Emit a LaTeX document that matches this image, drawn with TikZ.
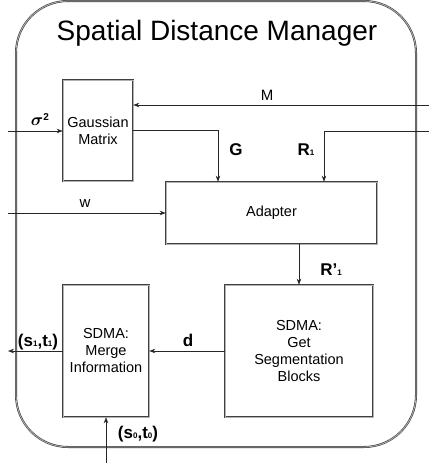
\documentclass[tikz,border=0pt]{standalone}
\usepackage{amsmath,amssymb,bm}
\usepackage{fontspec}
\setmainfont{Liberation Sans}
\usepackage{tikz}
\usetikzlibrary{calc,arrows.meta}

\begin{document}
\begin{tikzpicture}[x=1pt,y=-1pt,
    blockbox/.style={draw=black!75, line width=0.6pt, double=black!30, double distance=1pt,
        align=center, font=\fontsize{14.5}{17}\selectfont, inner sep=0pt},
    arr/.style={-{Stealth[length=6pt,width=4.5pt]}, draw=black!85, line width=0.6pt},
    lbl/.style={font=\fontsize{15}{15}\selectfont, inner sep=0pt},
    blbl/.style={font=\fontsize{17}{17}\selectfont\bfseries, inner sep=0pt}]
    \useasboundingbox (0,0) rectangle (429,467);
    % Outer frame
    \draw[draw=black!75, line width=0.6pt, double=black!30, double distance=0.8pt, rounded corners=52pt]
        (16,1) rectangle (416,447);
    \node[font=\fontsize{28}{28}\selectfont] (title) at (217,33) {Spatial Distance Manager};
    % Blocks
    \node[blockbox, minimum width=70pt, minimum height=101pt] (gauss) at (98,130.5) {Gaussian\\Matrix};
    \node[blockbox, minimum width=211pt, minimum height=62pt] (adapter) at (271.5,213) {Adapter};
    \node[blockbox, minimum width=148pt, minimum height=132pt] (getseg) at (299,351) {SDMA:\\Get\\Segmentation\\Blocks};
    \node[blockbox, minimum width=86pt, minimum height=132pt] (merge) at (106,351) {SDMA:\\Merge\\Information};
    % Free ends
    \coordinate (mIn) at (429,105);
    \coordinate (rIn) at (429,131);
    \coordinate (sigIn) at (8,131);
    \coordinate (wIn) at (8,213);
    \coordinate (sOut) at (8,351);
    \coordinate (s0In) at (106,463);
    % Connectors
    \draw[arr] (mIn) -- (mIn -| gauss.east);
    \draw[arr] (sigIn) -- (sigIn -| gauss.west);
    \draw[arr] (gauss.east) -| ([xshift=-53.5pt]adapter.north);
    \draw[arr] (rIn) -| ([xshift=52.5pt]adapter.north);
    \draw[arr] (wIn) -- (adapter.west);
    \draw[arr] (adapter.south -| getseg.north) -- (getseg.north);
    \draw[arr] (getseg.west) -- (merge.east);
    \draw[arr] (merge.west) -- (sOut);
    \draw[arr] (s0In) -- (merge.south);
    % Labels
    \node[lbl] (mLbl) at (267,95) {M};
    \node[blbl] (sigLbl) at (40,120) {{\boldmath$\sigma$}\raisebox{5pt}{\fontsize{10}{10}\selectfont 2}};
    \node[blbl] (gLbl) at (236,150) {G};
    \node[blbl] (rLbl) at (306,150) {R{\fontsize{8}{8}\selectfont 1}};
    \node[lbl] (wLbl) at (85,204) {w};
    \node[blbl] (rpLbl) at (331,270) {R'{\fontsize{8}{8}\selectfont 1}};
    \node[blbl] (dLbl) at (188,340) {d};
    \node[blbl] (s1Lbl) at (38,342) {(s{\fontsize{8}{8}\selectfont 1},t{\fontsize{8}{8}\selectfont 1})};
    \node[blbl] (s0Lbl) at (138,434) {(s{\fontsize{8}{8}\selectfont 0},t{\fontsize{8}{8}\selectfont 0})};
\end{tikzpicture}
\end{document}
